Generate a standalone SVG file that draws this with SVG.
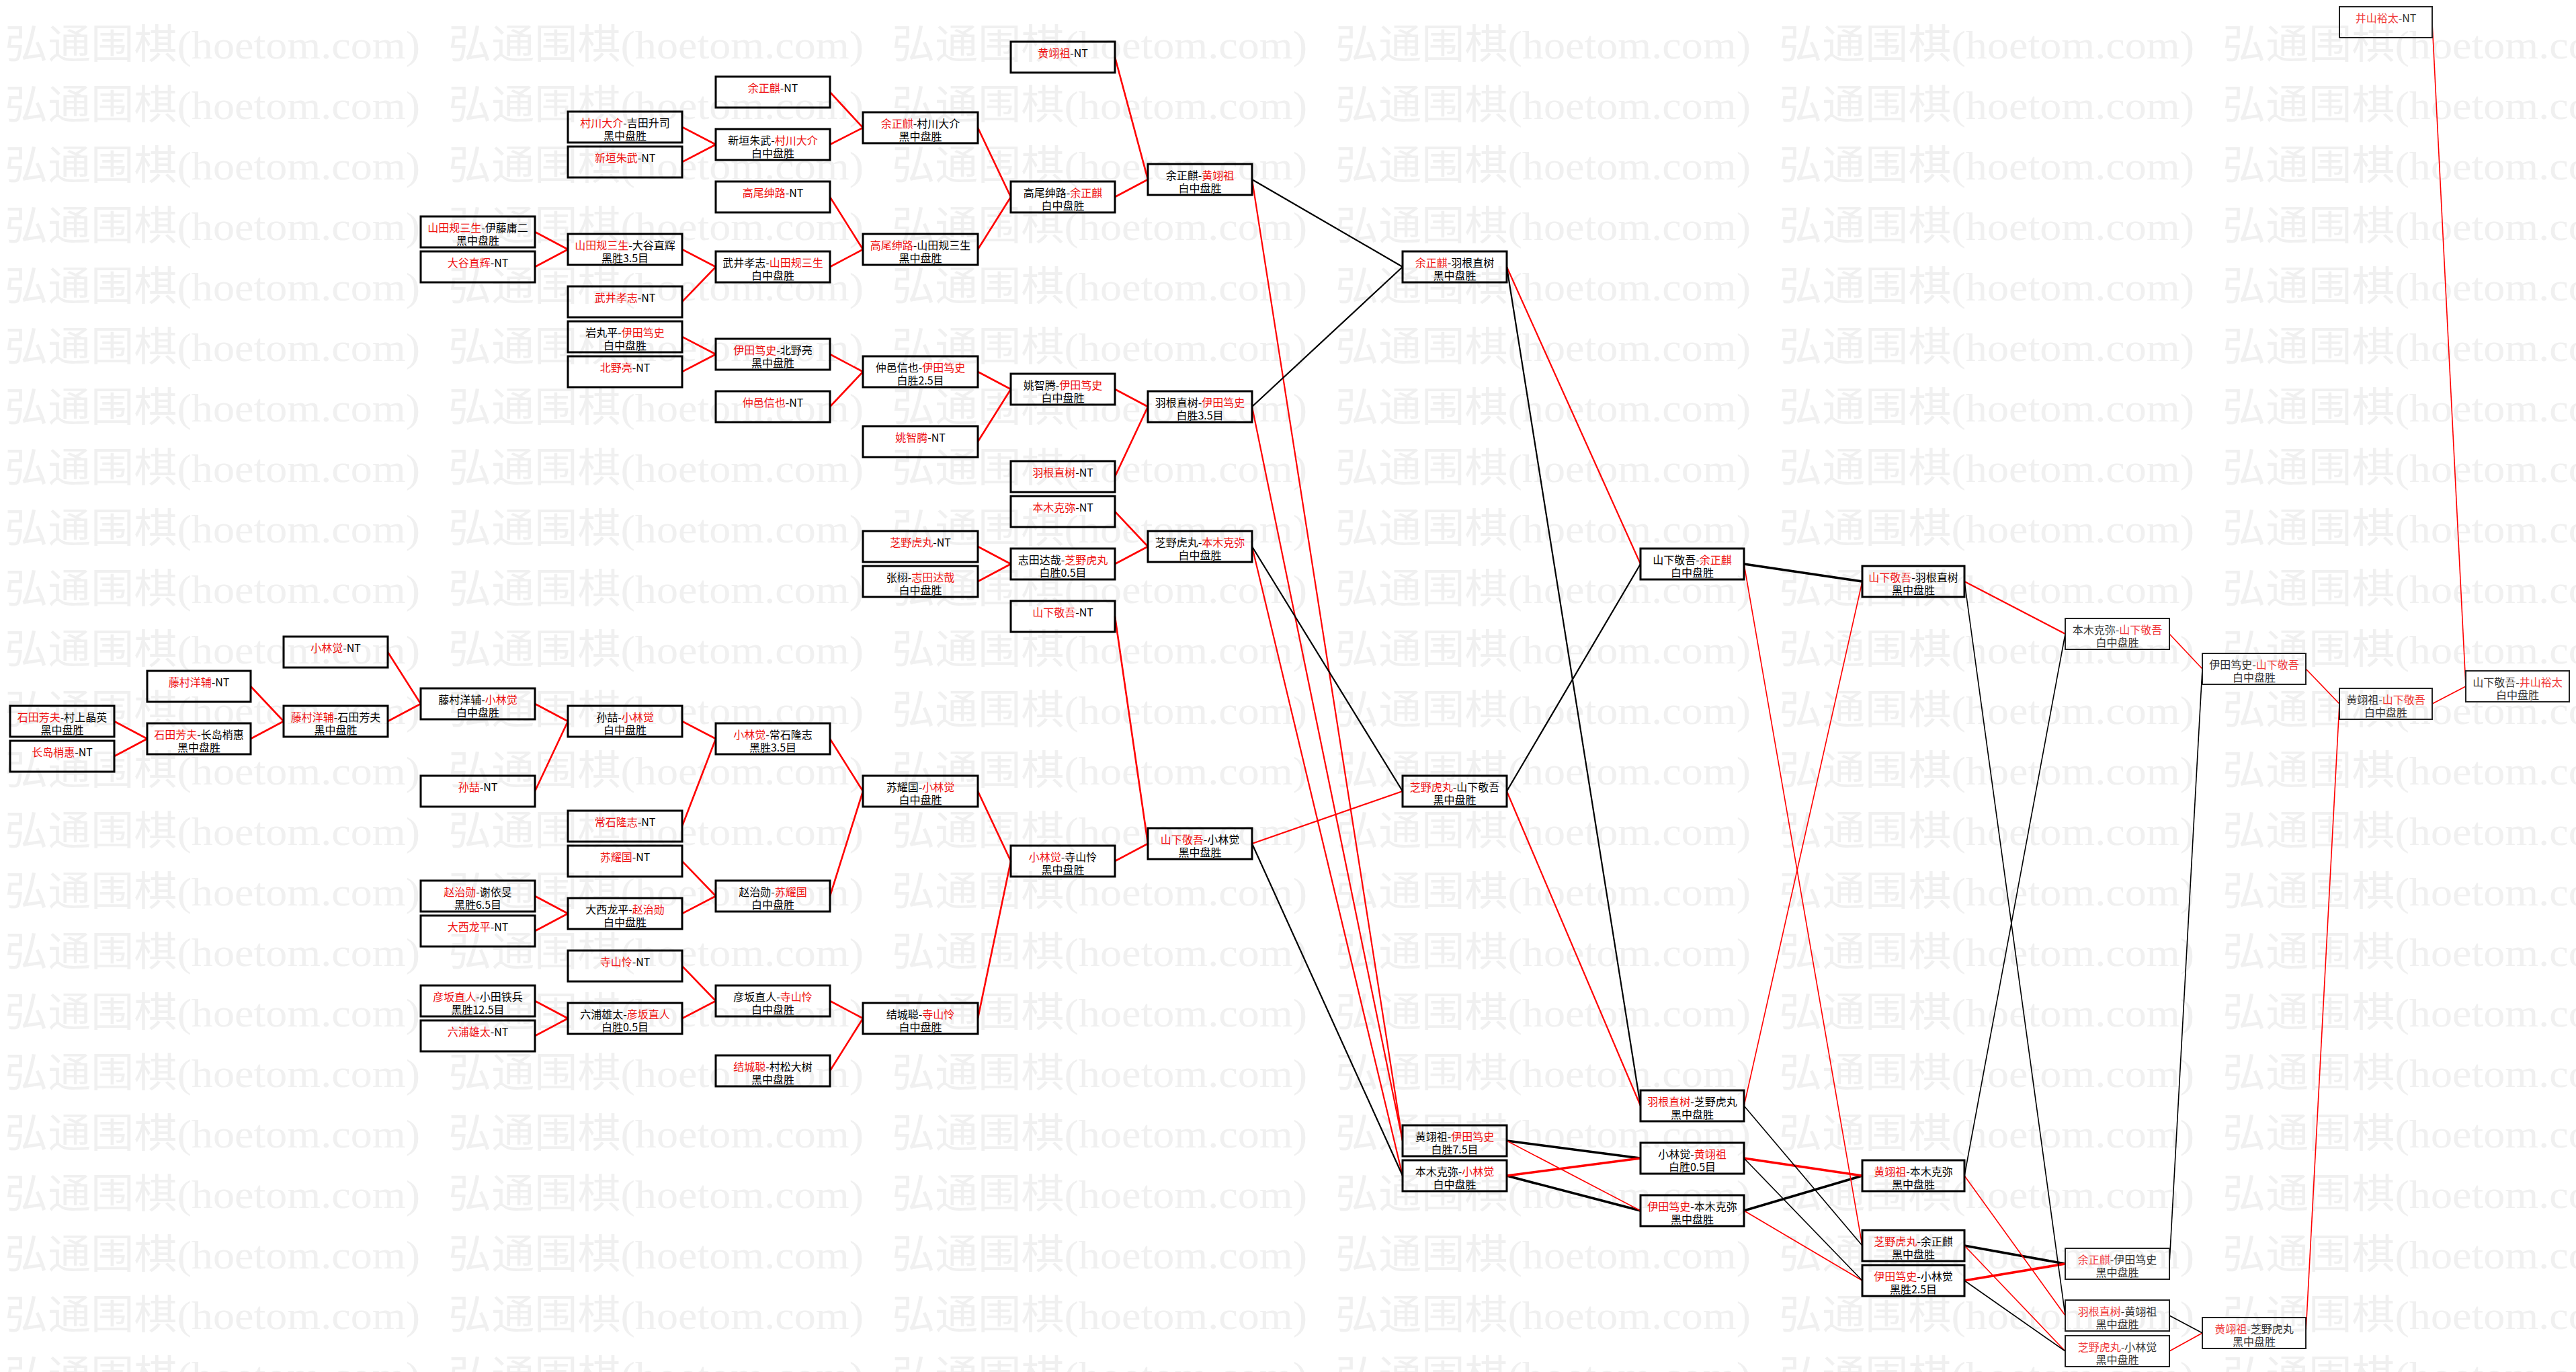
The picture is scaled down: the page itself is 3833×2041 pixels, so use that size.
<svg xmlns="http://www.w3.org/2000/svg" xmlns:xlink="http://www.w3.org/1999/xlink" width="3833" height="2041" viewBox="0 0 3833 2041">
<style>
.wm{font-family:"Liberation Serif","Noto Sans CJK SC",serif;font-size:60px;fill:#f0f0f0;dominant-baseline:central}
.b{fill:none;stroke:#000;stroke-width:3}
.b2{fill:none;stroke:#222;stroke-width:2}
.t{font-family:"Noto Sans CJK SC",sans-serif;font-size:16px;fill:#000;text-anchor:middle;dominant-baseline:central}
.t2{font-family:"Noto Sans CJK SC",sans-serif;font-size:16px;fill:#333;text-anchor:middle;dominant-baseline:central}
.r{fill:#ee1111}
.t2 .r{fill:#f03a3a}
.red{stroke:#f00;fill:none}
.blk{stroke:#000;fill:none}
.w1{stroke-width:1.6}
.w2{stroke-width:2.2}
.w3{stroke-width:2.6}
.w4{stroke-width:3.6}
</style>
<defs>
<g id="wmrow">
<text class="wm" x="7" y="67" textLength="618" lengthAdjust="spacingAndGlyphs">弘通围棋(hoetom.com)</text>
<text class="wm" x="667" y="67" textLength="618" lengthAdjust="spacingAndGlyphs">弘通围棋(hoetom.com)</text>
<text class="wm" x="1327" y="67" textLength="618" lengthAdjust="spacingAndGlyphs">弘通围棋(hoetom.com)</text>
<text class="wm" x="1987" y="67" textLength="618" lengthAdjust="spacingAndGlyphs">弘通围棋(hoetom.com)</text>
<text class="wm" x="2647" y="67" textLength="618" lengthAdjust="spacingAndGlyphs">弘通围棋(hoetom.com)</text>
<text class="wm" x="3307" y="67" textLength="618" lengthAdjust="spacingAndGlyphs">弘通围棋(hoetom.com)</text>
</g>
</defs>
<rect x="0" y="0" width="3833" height="2041" fill="#ffffff"/>
<g id="watermark">
<use href="#wmrow" y="0"/><use href="#wmrow" y="90"/><use href="#wmrow" y="180"/><use href="#wmrow" y="270"/>
<use href="#wmrow" y="360"/><use href="#wmrow" y="450"/><use href="#wmrow" y="540"/><use href="#wmrow" y="630"/>
<use href="#wmrow" y="720"/><use href="#wmrow" y="810"/><use href="#wmrow" y="900"/><use href="#wmrow" y="990"/>
<use href="#wmrow" y="1080"/><use href="#wmrow" y="1170"/><use href="#wmrow" y="1260"/><use href="#wmrow" y="1350"/>
<use href="#wmrow" y="1440"/><use href="#wmrow" y="1530"/><use href="#wmrow" y="1620"/><use href="#wmrow" y="1710"/>
<use href="#wmrow" y="1800"/><use href="#wmrow" y="1890"/><use href="#wmrow" y="1980"/>
</g>
<g id="connectors">
<g class="red w3">
<line x1="170" y1="1073" x2="219" y2="1099"/>
<line x1="170" y1="1125" x2="219" y2="1099"/>
<line x1="373" y1="1021" x2="422" y2="1073"/>
<line x1="373" y1="1099" x2="422" y2="1073"/>
<line x1="577" y1="970" x2="626" y2="1047"/>
<line x1="577" y1="1073" x2="626" y2="1047"/>
<line x1="796" y1="1047" x2="845" y2="1073"/>
<line x1="796" y1="1177" x2="845" y2="1073"/>
<line x1="1015" y1="1073" x2="1065" y2="1099"/>
<line x1="1015" y1="1229" x2="1065" y2="1099"/>
<line x1="1235" y1="1099" x2="1284" y2="1177"/>
<line x1="1015" y1="1281" x2="1065" y2="1333"/>
<line x1="1015" y1="1359" x2="1065" y2="1333"/>
<line x1="796" y1="1333" x2="845" y2="1359"/>
<line x1="796" y1="1385" x2="845" y2="1359"/>
<line x1="1235" y1="1333" x2="1284" y2="1177"/>
<line x1="796" y1="1489" x2="845" y2="1515"/>
<line x1="796" y1="1541" x2="845" y2="1515"/>
<line x1="1015" y1="1437" x2="1065" y2="1489"/>
<line x1="1015" y1="1515" x2="1065" y2="1489"/>
<line x1="1235" y1="1489" x2="1284" y2="1515"/>
<line x1="1235" y1="1593" x2="1284" y2="1515"/>
<line x1="1455" y1="1177" x2="1504" y2="1281"/>
<line x1="1455" y1="1515" x2="1504" y2="1281"/>
<line x1="1659" y1="1281" x2="1708" y2="1255"/>
<line x1="1659" y1="917" x2="1708" y2="1255"/>
<line x1="796" y1="345" x2="845" y2="371"/>
<line x1="796" y1="397" x2="845" y2="371"/>
<line x1="1015" y1="371" x2="1065" y2="397"/>
<line x1="1015" y1="449" x2="1065" y2="397"/>
<line x1="1015" y1="189" x2="1065" y2="215"/>
<line x1="1015" y1="241" x2="1065" y2="215"/>
<line x1="1235" y1="137" x2="1284" y2="190"/>
<line x1="1235" y1="215" x2="1284" y2="190"/>
<line x1="1235" y1="293" x2="1284" y2="371"/>
<line x1="1235" y1="397" x2="1284" y2="371"/>
<line x1="1455" y1="190" x2="1504" y2="293"/>
<line x1="1455" y1="371" x2="1504" y2="293"/>
<line x1="1659" y1="85" x2="1708" y2="267"/>
<line x1="1659" y1="293" x2="1708" y2="267"/>
<line x1="1015" y1="501" x2="1065" y2="527"/>
<line x1="1015" y1="553" x2="1065" y2="527"/>
<line x1="1235" y1="527" x2="1284" y2="553"/>
<line x1="1235" y1="605" x2="1284" y2="553"/>
<line x1="1455" y1="553" x2="1504" y2="579"/>
<line x1="1455" y1="657" x2="1504" y2="579"/>
<line x1="1659" y1="579" x2="1708" y2="605"/>
<line x1="1659" y1="709" x2="1708" y2="605"/>
<line x1="1455" y1="813" x2="1504" y2="839"/>
<line x1="1455" y1="865" x2="1504" y2="839"/>
<line x1="1659" y1="761" x2="1708" y2="813"/>
<line x1="1659" y1="839" x2="1708" y2="813"/>
</g>
<g class="red w2">
<line x1="1863" y1="267" x2="2087" y2="1697"/>
<line x1="1863" y1="605" x2="2087" y2="1697"/>
<line x1="1863" y1="813" x2="2087" y2="1749"/>
<line x1="1863" y1="1255" x2="2087" y2="1177"/>
<line x1="2242" y1="397" x2="2441" y2="839"/>
<line x1="2242" y1="1177" x2="2441" y2="1645"/>
<line x1="2923" y1="865" x2="3073" y2="943"/>
</g>
<g class="blk w2">
<line x1="1863" y1="267" x2="2087" y2="397"/>
<line x1="1863" y1="605" x2="2087" y2="397"/>
<line x1="1863" y1="813" x2="2087" y2="1177"/>
<line x1="1863" y1="1255" x2="2087" y2="1749"/>
<line x1="2242" y1="397" x2="2441" y2="1645"/>
<line x1="2242" y1="1177" x2="2441" y2="839"/>
</g>
<g class="blk w4">
<line x1="2242" y1="1697" x2="2441" y2="1723"/>
<line x1="2242" y1="1749" x2="2441" y2="1801"/>
<line x1="2595" y1="839" x2="2771" y2="865"/>
<line x1="2595" y1="1801" x2="2771" y2="1749"/>
<line x1="2923" y1="1853" x2="3073" y2="1880"/>
</g>
<g class="red w4">
<line x1="2242" y1="1749" x2="2441" y2="1723"/>
<line x1="2595" y1="1723" x2="2771" y2="1749"/>
<line x1="2923" y1="1905" x2="3073" y2="1880"/>
</g>
<g class="red w1">
<line x1="2242" y1="1697" x2="2441" y2="1801"/>
<line x1="2595" y1="839" x2="2771" y2="1853"/>
<line x1="2595" y1="1645" x2="2771" y2="865"/>
<line x1="2595" y1="1801" x2="2771" y2="1905"/>
<line x1="2923" y1="1749" x2="3073" y2="1957"/>
<line x1="2923" y1="1853" x2="3073" y2="2010"/>
<line x1="3228" y1="943" x2="3277" y2="995"/>
<line x1="3228" y1="2010" x2="3277" y2="1983"/>
<line x1="3431" y1="995" x2="3481" y2="1047"/>
<line x1="3431" y1="1983" x2="3481" y2="1047"/>
<line x1="3619" y1="33" x2="3669" y2="1021"/>
<line x1="3619" y1="1047" x2="3669" y2="1021"/>
</g>
<g class="blk w1">
<line x1="2595" y1="1645" x2="2771" y2="1853"/>
<line x1="2595" y1="1723" x2="2771" y2="1905"/>
<line x1="2923" y1="865" x2="3073" y2="1957"/>
<line x1="2923" y1="1749" x2="3073" y2="943"/>
<line x1="2923" y1="1905" x2="3073" y2="2010"/>
<line x1="3228" y1="1880" x2="3277" y2="995"/>
<line x1="3228" y1="1957" x2="3277" y2="1983"/>
</g>
</g>
<g id="nodes">
<g id="n-c0-1"><rect class="b" x="15" y="1050" width="155" height="46"/><text class="t" x="92.5" y="1066"><tspan class="r">石田芳夫</tspan>-村上晶英</text><text class="t" x="92.5" y="1085">黑中盘胜</text></g>
<g id="n-c0-2"><rect class="b" x="15" y="1102" width="155" height="46"/><text class="t" x="92.5" y="1118"><tspan class="r">长岛梢惠</tspan>-NT</text></g>
<g id="n-c1-1"><rect class="b" x="219" y="998" width="154" height="46"/><text class="t" x="296" y="1014"><tspan class="r">藤村洋辅</tspan>-NT</text></g>
<g id="n-c1-2"><rect class="b" x="219" y="1076" width="154" height="46"/><text class="t" x="296" y="1092"><tspan class="r">石田芳夫</tspan>-长岛梢惠</text><text class="t" x="296" y="1111">黑中盘胜</text></g>
<g id="n-c2-1"><rect class="b" x="422" y="947" width="155" height="46"/><text class="t" x="499.5" y="963"><tspan class="r">小林觉</tspan>-NT</text></g>
<g id="n-c2-2"><rect class="b" x="422" y="1050" width="155" height="46"/><text class="t" x="499.5" y="1066"><tspan class="r">藤村洋辅</tspan>-石田芳夫</text><text class="t" x="499.5" y="1085">黑中盘胜</text></g>
<g id="n-c3-1"><rect class="b" x="626" y="322" width="170" height="46"/><text class="t" x="711" y="338"><tspan class="r">山田规三生</tspan>-伊藤庸二</text><text class="t" x="711" y="357">黑中盘胜</text></g>
<g id="n-c3-2"><rect class="b" x="626" y="374" width="170" height="46"/><text class="t" x="711" y="390"><tspan class="r">大谷直辉</tspan>-NT</text></g>
<g id="n-c3-3"><rect class="b" x="626" y="1024" width="170" height="46"/><text class="t" x="711" y="1040">藤村洋辅-<tspan class="r">小林觉</tspan></text><text class="t" x="711" y="1059">白中盘胜</text></g>
<g id="n-c3-4"><rect class="b" x="626" y="1154" width="170" height="46"/><text class="t" x="711" y="1170"><tspan class="r">孙喆</tspan>-NT</text></g>
<g id="n-c3-5"><rect class="b" x="626" y="1310" width="170" height="46"/><text class="t" x="711" y="1326"><tspan class="r">赵治勋</tspan>-谢依旻</text><text class="t" x="711" y="1345">黑胜6.5目</text></g>
<g id="n-c3-6"><rect class="b" x="626" y="1362" width="170" height="46"/><text class="t" x="711" y="1378"><tspan class="r">大西龙平</tspan>-NT</text></g>
<g id="n-c3-7"><rect class="b" x="626" y="1466" width="170" height="46"/><text class="t" x="711" y="1482"><tspan class="r">彦坂直人</tspan>-小田铁兵</text><text class="t" x="711" y="1501">黑胜12.5目</text></g>
<g id="n-c3-8"><rect class="b" x="626" y="1518" width="170" height="46"/><text class="t" x="711" y="1534"><tspan class="r">六浦雄太</tspan>-NT</text></g>
<g id="n-c4-1"><rect class="b" x="845" y="166" width="170" height="46"/><text class="t" x="930" y="182"><tspan class="r">村川大介</tspan>-吉田升司</text><text class="t" x="930" y="201">黑中盘胜</text></g>
<g id="n-c4-2"><rect class="b" x="845" y="218" width="170" height="46"/><text class="t" x="930" y="234"><tspan class="r">新垣朱武</tspan>-NT</text></g>
<g id="n-c4-3"><rect class="b" x="845" y="348" width="170" height="46"/><text class="t" x="930" y="364"><tspan class="r">山田规三生</tspan>-大谷直辉</text><text class="t" x="930" y="383">黑胜3.5目</text></g>
<g id="n-c4-4"><rect class="b" x="845" y="426" width="170" height="46"/><text class="t" x="930" y="442"><tspan class="r">武井孝志</tspan>-NT</text></g>
<g id="n-c4-5"><rect class="b" x="845" y="478" width="170" height="46"/><text class="t" x="930" y="494">岩丸平-<tspan class="r">伊田笃史</tspan></text><text class="t" x="930" y="513">白中盘胜</text></g>
<g id="n-c4-6"><rect class="b" x="845" y="530" width="170" height="46"/><text class="t" x="930" y="546"><tspan class="r">北野亮</tspan>-NT</text></g>
<g id="n-c4-7"><rect class="b" x="845" y="1050" width="170" height="46"/><text class="t" x="930" y="1066">孙喆-<tspan class="r">小林觉</tspan></text><text class="t" x="930" y="1085">白中盘胜</text></g>
<g id="n-c4-8"><rect class="b" x="845" y="1206" width="170" height="46"/><text class="t" x="930" y="1222"><tspan class="r">常石隆志</tspan>-NT</text></g>
<g id="n-c4-9"><rect class="b" x="845" y="1258" width="170" height="46"/><text class="t" x="930" y="1274"><tspan class="r">苏耀国</tspan>-NT</text></g>
<g id="n-c4-10"><rect class="b" x="845" y="1336" width="170" height="46"/><text class="t" x="930" y="1352">大西龙平-<tspan class="r">赵治勋</tspan></text><text class="t" x="930" y="1371">白中盘胜</text></g>
<g id="n-c4-11"><rect class="b" x="845" y="1414" width="170" height="46"/><text class="t" x="930" y="1430"><tspan class="r">寺山怜</tspan>-NT</text></g>
<g id="n-c4-12"><rect class="b" x="845" y="1492" width="170" height="46"/><text class="t" x="930" y="1508">六浦雄太-<tspan class="r">彦坂直人</tspan></text><text class="t" x="930" y="1527">白胜0.5目</text></g>
<g id="n-c5-1"><rect class="b" x="1065" y="114" width="170" height="46"/><text class="t" x="1150" y="130"><tspan class="r">余正麒</tspan>-NT</text></g>
<g id="n-c5-2"><rect class="b" x="1065" y="192" width="170" height="46"/><text class="t" x="1150" y="208">新垣朱武-<tspan class="r">村川大介</tspan></text><text class="t" x="1150" y="227">白中盘胜</text></g>
<g id="n-c5-3"><rect class="b" x="1065" y="270" width="170" height="46"/><text class="t" x="1150" y="286"><tspan class="r">高尾绅路</tspan>-NT</text></g>
<g id="n-c5-4"><rect class="b" x="1065" y="374" width="170" height="46"/><text class="t" x="1150" y="390">武井孝志-<tspan class="r">山田规三生</tspan></text><text class="t" x="1150" y="409">白中盘胜</text></g>
<g id="n-c5-5"><rect class="b" x="1065" y="504" width="170" height="46"/><text class="t" x="1150" y="520"><tspan class="r">伊田笃史</tspan>-北野亮</text><text class="t" x="1150" y="539">黑中盘胜</text></g>
<g id="n-c5-6"><rect class="b" x="1065" y="582" width="170" height="46"/><text class="t" x="1150" y="598"><tspan class="r">仲邑信也</tspan>-NT</text></g>
<g id="n-c5-7"><rect class="b" x="1065" y="1076" width="170" height="46"/><text class="t" x="1150" y="1092"><tspan class="r">小林觉</tspan>-常石隆志</text><text class="t" x="1150" y="1111">黑胜3.5目</text></g>
<g id="n-c5-8"><rect class="b" x="1065" y="1310" width="170" height="46"/><text class="t" x="1150" y="1326">赵治勋-<tspan class="r">苏耀国</tspan></text><text class="t" x="1150" y="1345">白中盘胜</text></g>
<g id="n-c5-9"><rect class="b" x="1065" y="1466" width="170" height="46"/><text class="t" x="1150" y="1482">彦坂直人-<tspan class="r">寺山怜</tspan></text><text class="t" x="1150" y="1501">白中盘胜</text></g>
<g id="n-c5-10"><rect class="b" x="1065" y="1570" width="170" height="46"/><text class="t" x="1150" y="1586"><tspan class="r">结城聪</tspan>-村松大树</text><text class="t" x="1150" y="1605">黑中盘胜</text></g>
<g id="n-c6-1"><rect class="b" x="1284" y="167" width="171" height="46"/><text class="t" x="1369.5" y="183"><tspan class="r">余正麒</tspan>-村川大介</text><text class="t" x="1369.5" y="202">黑中盘胜</text></g>
<g id="n-c6-2"><rect class="b" x="1284" y="348" width="171" height="46"/><text class="t" x="1369.5" y="364"><tspan class="r">高尾绅路</tspan>-山田规三生</text><text class="t" x="1369.5" y="383">黑中盘胜</text></g>
<g id="n-c6-3"><rect class="b" x="1284" y="530" width="171" height="46"/><text class="t" x="1369.5" y="546">仲邑信也-<tspan class="r">伊田笃史</tspan></text><text class="t" x="1369.5" y="565">白胜2.5目</text></g>
<g id="n-c6-4"><rect class="b" x="1284" y="634" width="171" height="46"/><text class="t" x="1369.5" y="650"><tspan class="r">姚智腾</tspan>-NT</text></g>
<g id="n-c6-5"><rect class="b" x="1284" y="790" width="171" height="46"/><text class="t" x="1369.5" y="806"><tspan class="r">芝野虎丸</tspan>-NT</text></g>
<g id="n-c6-6"><rect class="b" x="1284" y="842" width="171" height="46"/><text class="t" x="1369.5" y="858">张栩-<tspan class="r">志田达哉</tspan></text><text class="t" x="1369.5" y="877">白中盘胜</text></g>
<g id="n-c6-7"><rect class="b" x="1284" y="1154" width="171" height="46"/><text class="t" x="1369.5" y="1170">苏耀国-<tspan class="r">小林觉</tspan></text><text class="t" x="1369.5" y="1189">白中盘胜</text></g>
<g id="n-c6-8"><rect class="b" x="1284" y="1492" width="171" height="46"/><text class="t" x="1369.5" y="1508">结城聪-<tspan class="r">寺山怜</tspan></text><text class="t" x="1369.5" y="1527">白中盘胜</text></g>
<g id="n-c7-1"><rect class="b" x="1504" y="62" width="155" height="46"/><text class="t" x="1581.5" y="78"><tspan class="r">黄翊祖</tspan>-NT</text></g>
<g id="n-c7-2"><rect class="b" x="1504" y="270" width="155" height="46"/><text class="t" x="1581.5" y="286">高尾绅路-<tspan class="r">余正麒</tspan></text><text class="t" x="1581.5" y="305">白中盘胜</text></g>
<g id="n-c7-3"><rect class="b" x="1504" y="556" width="155" height="46"/><text class="t" x="1581.5" y="572">姚智腾-<tspan class="r">伊田笃史</tspan></text><text class="t" x="1581.5" y="591">白中盘胜</text></g>
<g id="n-c7-4"><rect class="b" x="1504" y="686" width="155" height="46"/><text class="t" x="1581.5" y="702"><tspan class="r">羽根直树</tspan>-NT</text></g>
<g id="n-c7-5"><rect class="b" x="1504" y="738" width="155" height="46"/><text class="t" x="1581.5" y="754"><tspan class="r">本木克弥</tspan>-NT</text></g>
<g id="n-c7-6"><rect class="b" x="1504" y="816" width="155" height="46"/><text class="t" x="1581.5" y="832">志田达哉-<tspan class="r">芝野虎丸</tspan></text><text class="t" x="1581.5" y="851">白胜0.5目</text></g>
<g id="n-c7-7"><rect class="b" x="1504" y="894" width="155" height="46"/><text class="t" x="1581.5" y="910"><tspan class="r">山下敬吾</tspan>-NT</text></g>
<g id="n-c7-8"><rect class="b" x="1504" y="1258" width="155" height="46"/><text class="t" x="1581.5" y="1274"><tspan class="r">小林觉</tspan>-寺山怜</text><text class="t" x="1581.5" y="1293">黑中盘胜</text></g>
<g id="n-c8-1"><rect class="b" x="1708" y="244" width="155" height="46"/><text class="t" x="1785.5" y="260">余正麒-<tspan class="r">黄翊祖</tspan></text><text class="t" x="1785.5" y="279">白中盘胜</text></g>
<g id="n-c8-2"><rect class="b" x="1708" y="582" width="155" height="46"/><text class="t" x="1785.5" y="598">羽根直树-<tspan class="r">伊田笃史</tspan></text><text class="t" x="1785.5" y="617">白胜3.5目</text></g>
<g id="n-c8-3"><rect class="b" x="1708" y="790" width="155" height="46"/><text class="t" x="1785.5" y="806">芝野虎丸-<tspan class="r">本木克弥</tspan></text><text class="t" x="1785.5" y="825">白中盘胜</text></g>
<g id="n-c8-4"><rect class="b" x="1708" y="1232" width="155" height="46"/><text class="t" x="1785.5" y="1248"><tspan class="r">山下敬吾</tspan>-小林觉</text><text class="t" x="1785.5" y="1267">黑中盘胜</text></g>
<g id="n-c9-1"><rect class="b" x="2087" y="374" width="155" height="46"/><text class="t" x="2164.5" y="390"><tspan class="r">余正麒</tspan>-羽根直树</text><text class="t" x="2164.5" y="409">黑中盘胜</text></g>
<g id="n-c9-2"><rect class="b" x="2087" y="1154" width="155" height="46"/><text class="t" x="2164.5" y="1170"><tspan class="r">芝野虎丸</tspan>-山下敬吾</text><text class="t" x="2164.5" y="1189">黑中盘胜</text></g>
<g id="n-c9-3"><rect class="b" x="2087" y="1674" width="155" height="46"/><text class="t" x="2164.5" y="1690">黄翊祖-<tspan class="r">伊田笃史</tspan></text><text class="t" x="2164.5" y="1709">白胜7.5目</text></g>
<g id="n-c9-4"><rect class="b" x="2087" y="1726" width="155" height="46"/><text class="t" x="2164.5" y="1742">本木克弥-<tspan class="r">小林觉</tspan></text><text class="t" x="2164.5" y="1761">白中盘胜</text></g>
<g id="n-c10-1"><rect class="b" x="2441" y="816" width="154" height="46"/><text class="t" x="2518" y="832">山下敬吾-<tspan class="r">余正麒</tspan></text><text class="t" x="2518" y="851">白中盘胜</text></g>
<g id="n-c10-2"><rect class="b" x="2441" y="1622" width="154" height="46"/><text class="t" x="2518" y="1638"><tspan class="r">羽根直树</tspan>-芝野虎丸</text><text class="t" x="2518" y="1657">黑中盘胜</text></g>
<g id="n-c10-3"><rect class="b" x="2441" y="1700" width="154" height="46"/><text class="t" x="2518" y="1716">小林觉-<tspan class="r">黄翊祖</tspan></text><text class="t" x="2518" y="1735">白胜0.5目</text></g>
<g id="n-c10-4"><rect class="b" x="2441" y="1778" width="154" height="46"/><text class="t" x="2518" y="1794"><tspan class="r">伊田笃史</tspan>-本木克弥</text><text class="t" x="2518" y="1813">黑中盘胜</text></g>
<g id="n-c11-1"><rect class="b" x="2771" y="842" width="152" height="46"/><text class="t" x="2847" y="858"><tspan class="r">山下敬吾</tspan>-羽根直树</text><text class="t" x="2847" y="877">黑中盘胜</text></g>
<g id="n-c11-2"><rect class="b" x="2771" y="1726" width="152" height="46"/><text class="t" x="2847" y="1742"><tspan class="r">黄翊祖</tspan>-本木克弥</text><text class="t" x="2847" y="1761">黑中盘胜</text></g>
<g id="n-c11-3"><rect class="b" x="2771" y="1830" width="152" height="46"/><text class="t" x="2847" y="1846"><tspan class="r">芝野虎丸</tspan>-余正麒</text><text class="t" x="2847" y="1865">黑中盘胜</text></g>
<g id="n-c11-4"><rect class="b" x="2771" y="1882" width="152" height="46"/><text class="t" x="2847" y="1898"><tspan class="r">伊田笃史</tspan>-小林觉</text><text class="t" x="2847" y="1917">黑胜2.5目</text></g>
<g id="n-c12-1"><rect class="b2" x="3073" y="920" width="155" height="46"/><text class="t2" x="3150.5" y="936">本木克弥-<tspan class="r">山下敬吾</tspan></text><text class="t2" x="3150.5" y="955">白中盘胜</text></g>
<g id="n-c12-2"><rect class="b2" x="3073" y="1857" width="155" height="46"/><text class="t2" x="3150.5" y="1873"><tspan class="r">余正麒</tspan>-伊田笃史</text><text class="t2" x="3150.5" y="1892">黑中盘胜</text></g>
<g id="n-c12-3"><rect class="b2" x="3073" y="1934" width="155" height="46"/><text class="t2" x="3150.5" y="1950"><tspan class="r">羽根直树</tspan>-黄翊祖</text><text class="t2" x="3150.5" y="1969">黑中盘胜</text></g>
<g id="n-c12-4"><rect class="b2" x="3073" y="1987" width="155" height="46"/><text class="t2" x="3150.5" y="2003"><tspan class="r">芝野虎丸</tspan>-小林觉</text><text class="t2" x="3150.5" y="2022">黑中盘胜</text></g>
<g id="n-c13-1"><rect class="b2" x="3277" y="972" width="154" height="46"/><text class="t2" x="3354" y="988">伊田笃史-<tspan class="r">山下敬吾</tspan></text><text class="t2" x="3354" y="1007">白中盘胜</text></g>
<g id="n-c13-2"><rect class="b2" x="3277" y="1960" width="154" height="46"/><text class="t2" x="3354" y="1976"><tspan class="r">黄翊祖</tspan>-芝野虎丸</text><text class="t2" x="3354" y="1995">黑中盘胜</text></g>
<g id="n-c14-1"><rect class="b2" x="3481" y="10" width="138" height="46"/><text class="t2" x="3550" y="26"><tspan class="r">井山裕太</tspan>-NT</text></g>
<g id="n-c14-2"><rect class="b2" x="3481" y="1024" width="138" height="46"/><text class="t2" x="3550" y="1040">黄翊祖-<tspan class="r">山下敬吾</tspan></text><text class="t2" x="3550" y="1059">白中盘胜</text></g>
<g id="n-c15-1"><rect class="b2" x="3669" y="998" width="154" height="46"/><text class="t2" x="3746" y="1014">山下敬吾-<tspan class="r">井山裕太</tspan></text><text class="t2" x="3746" y="1033">白中盘胜</text></g>
</g>
</svg>
